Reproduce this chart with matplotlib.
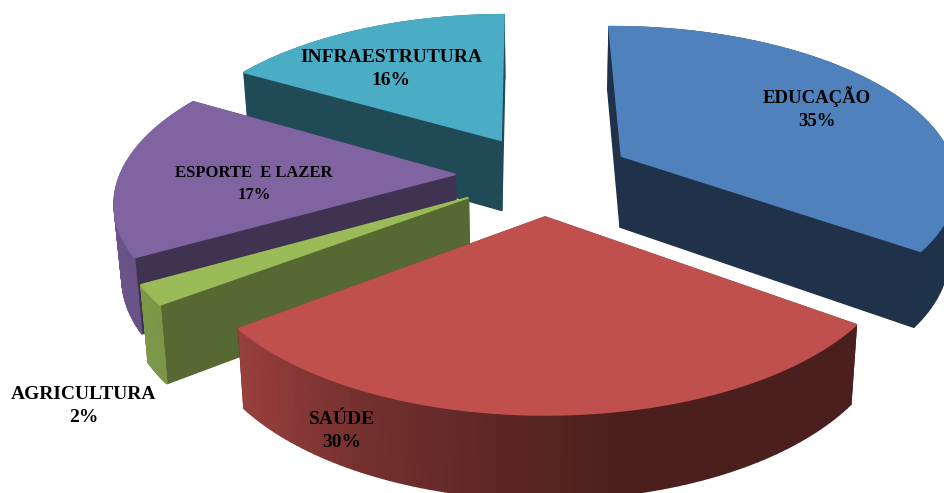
import numpy as np
import matplotlib
matplotlib.use('Agg')
import matplotlib.pyplot as plt
from matplotlib.colors import to_rgb
from matplotlib.patches import Polygon

labels = ['EDUCAÇÃO', 'SAÚDE', 'AGRICULTURA', 'ESPORTE  E LAZER', 'INFRAESTRUTURA']
# shares, the labels show them rounded
values = [35.1, 29.7, 2.0, 16.8, 16.4]
colors = ['#4f81bd', '#c0504d', '#9bbb59', '#8064a2', '#4bacc6']
face_shade = [0.39, 0.39, 0.56, 0.5, 0.43]

# view of the tilted pie, in pixels of the picture
cx, cy = 544, 174.5
rx, ry = 335, 154
persp = 0.15
explode = 0.265
depth = 72
shrink = 0.982
first_angle = -0.5

label_pos = [(817, 108), (342, 431), (84, 406), (254, 184), (391, 69)]
label_size = [13.5, 14, 14, 12, 14]
draw_order = [4, 0, 3, 2, 1]


def project(x, y):
    s = 1 / (1 - persp * y)
    return cx + x * rx * s, cy + y * ry * s


def drop(px, py, y):
    s = 1 / (1 - persp * y)
    return cx + (px - cx) * shrink, cy + (py - cy) * shrink + depth * s


def wall_shade(theta):
    return np.interp(np.sin(theta), [-1, -0.8, -0.45, 0.0, 0.2], [0.85, 0.8, 0.6, 0.45, 0.385])


def shaded(color, k):
    return tuple(c * k for c in to_rgb(color))


def draw_slice(ax, start, end, color, face):
    mid = np.radians((start + end) / 2)
    ox, oy = explode * np.sin(mid), -explode * np.cos(mid)
    th = np.radians(np.linspace(start, end, 90))
    wx = ox + np.sin(th)
    wy = oy - np.cos(th)
    tx, ty = project(wx, wy)
    ax0, ay0 = project(ox, oy)
    bx, by = drop(tx, ty, wy)
    bx0, by0 = drop(ax0, ay0, oy)

    quads = []
    for i in range(len(th) - 1):
        quad = [(tx[i], ty[i]), (tx[i + 1], ty[i + 1]), (bx[i + 1], by[i + 1]), (bx[i], by[i])]
        quads.append((quad, shaded(color, wall_shade((th[i] + th[i + 1]) / 2))))
    for j in (0, -1):
        quad = [(ax0, ay0), (tx[j], ty[j]), (bx[j], by[j]), (bx0, by0)]
        quads.append((quad, shaded(color, face)))
    quads.sort(key=lambda q: np.mean([p[1] for p in q[0]]))
    for quad, c in quads:
        ax.add_patch(Polygon(quad, closed=True, fc=c, ec=c, lw=1.0))

    top = [(ax0, ay0)] + list(zip(tx, ty))
    ax.add_patch(Polygon(top, closed=True, fc=color, ec=color, lw=1.2))


fig = plt.figure(figsize=(9.45, 4.93), dpi=100)
ax = fig.add_axes([0, 0, 1, 1])
ax.set_xlim(0, 945)
ax.set_ylim(493, 0)
ax.axis('off')

edges = first_angle + np.cumsum([0] + values) * 3.6
for i in draw_order:
    draw_slice(ax, edges[i], edges[i + 1], colors[i], face_shade[i])

for i in range(len(values)):
    ax.text(label_pos[i][0], label_pos[i][1], f'{labels[i]}\n{values[i]:.0f}%', ha='center', va='center',
            family='Liberation Serif', weight='bold', fontsize=label_size[i], color='black', linespacing=1.5)

fig.savefig('out.png', dpi=100)
